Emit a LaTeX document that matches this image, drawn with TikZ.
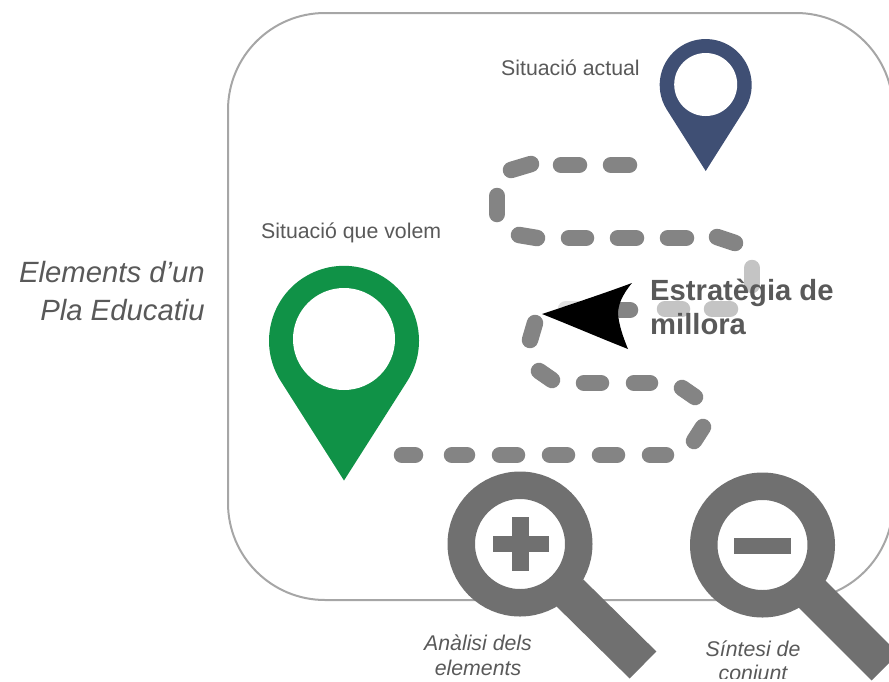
\documentclass[tikz,border=0pt]{standalone}
\usepackage{fontspec}
\setmainfont{Liberation Sans}
\definecolor{framec}{HTML}{A6A6A6}
\definecolor{dashc}{HTML}{848484}
\definecolor{dashl}{HTML}{C4C4C4}
\definecolor{dashvl}{HTML}{E2E2E2}
\definecolor{bluepin}{HTML}{3F4F74}
\definecolor{greenpin}{HTML}{109247}
\definecolor{lensc}{HTML}{707070}
\definecolor{txtc}{HTML}{595959}
\tikzset{
  frame/.style={draw=framec,line width=2pt,rounded corners=97pt},
  pathdash/.style={draw=dashc,line width=16.5pt,line cap=round},
  pathfaint/.style={draw=dashl,line width=16.5pt,line cap=round},
  lab/.style={inner sep=0pt,text=txtc,align=center},
}
\begin{document}
\begin{tikzpicture}[x=1pt,y=-1pt]
\useasboundingbox (0,0) rectangle (889,681);
\begin{scope}
\clip (0,0) rectangle (889,681);
\draw[frame] (228,13) rectangle (893,600);
% dashes
\foreach \a/\b/\c/\d in {511/170/531/164,561/165/579/165,611/165/629/165,
  497/196/497/214,
  519/235/537/238,569/238/586/238,618/238/636/238,668/238/686/238,717/237/735/243,
  535/323/530/340,
  539/371/552/380,584/383/601/383,634/383/650/383,682/388/695/397,
  703/427/694/441,
  402/455/415/455,452/455/467/455,500/455/517/455,550/455/567/455,600/455/617/455,650/455/666/455}
  \draw[pathdash] (\a,\b) -- (\c,\d);
\foreach \a/\b/\c/\d in {752/268/752/285,712/309/730/309,665/309/682/309}
  \draw[pathfaint] (\a,\b) -- (\c,\d);
\draw[draw=dashvl,line width=16.5pt,line cap=round] (566,309) -- (578,309);
\draw[pathdash] (620,310) -- (630,310);
% arrow
\fill[black] (542,314) .. controls (575,303) and (605,293) .. (632,283)
  .. controls (622,295) and (618,305) .. (618,314)
  .. controls (619,325) and (623,337) .. (628,349)
  .. controls (600,338) and (570,325) .. (542,314) -- cycle;
% blue pin
\fill[bluepin] (705.7,171) -- (666.8,109.6) arc[start angle=147.7,end angle=392.3,radius=46] -- cycle;
\fill[white] (705.7,84.5) circle[radius=31.5];
% green pin
\fill[greenpin] (344,480.5) -- (280.7,381) arc[start angle=147.6,end angle=392.4,radius=75] -- cycle;
\fill[white] (344,339) circle[radius=51];
% lens plus
\draw[lensc,line width=38pt] (570,593) -- (643,665);
\draw[lensc,line width=27.5pt,fill=white] (520,544) circle[radius=58.75];
\fill[lensc] (493,536) rectangle (549,552);
\fill[lensc] (512,517) rectangle (529,571);
% lens minus
\draw[lensc,line width=38pt] (812,594) -- (885,667);
\draw[lensc,line width=27.5pt,fill=white] (762.5,545) circle[radius=58.75];
\fill[lensc] (734,538) rectangle (791,554);
\end{scope}
% labels
\node[lab,anchor=base west,font=\fontsize{21.3pt}{24pt}\selectfont] (actual) at (501,75) {Situació actual};
\node[lab,anchor=base west,font=\fontsize{21.3pt}{24pt}\selectfont] (volem) at (261,238) {Situació que volem};
\node[lab,anchor=north east,align=right,font=\fontsize{29.3pt}{38pt}\selectfont\itshape] (title) at (205,261) {Elements d’un\\Pla Educatiu};
\node[lab,anchor=north west,align=left,font=\fontsize{29.2pt}{34pt}\selectfont\bfseries] (estr) at (650,279) {Estratègia de\\millora};
\node[lab,font=\fontsize{21.3pt}{25pt}\selectfont\itshape,anchor=north] (anal) at (478,635) {Anàlisi dels\\elements};
\begin{scope}
\clip (0,0) rectangle (889,678.5);
\node[lab,font=\fontsize{21.3pt}{24pt}\selectfont\itshape,anchor=north] (sint) at (753,641) {Síntesi de\\conjunt};
\end{scope}
\end{tikzpicture}
\end{document}
